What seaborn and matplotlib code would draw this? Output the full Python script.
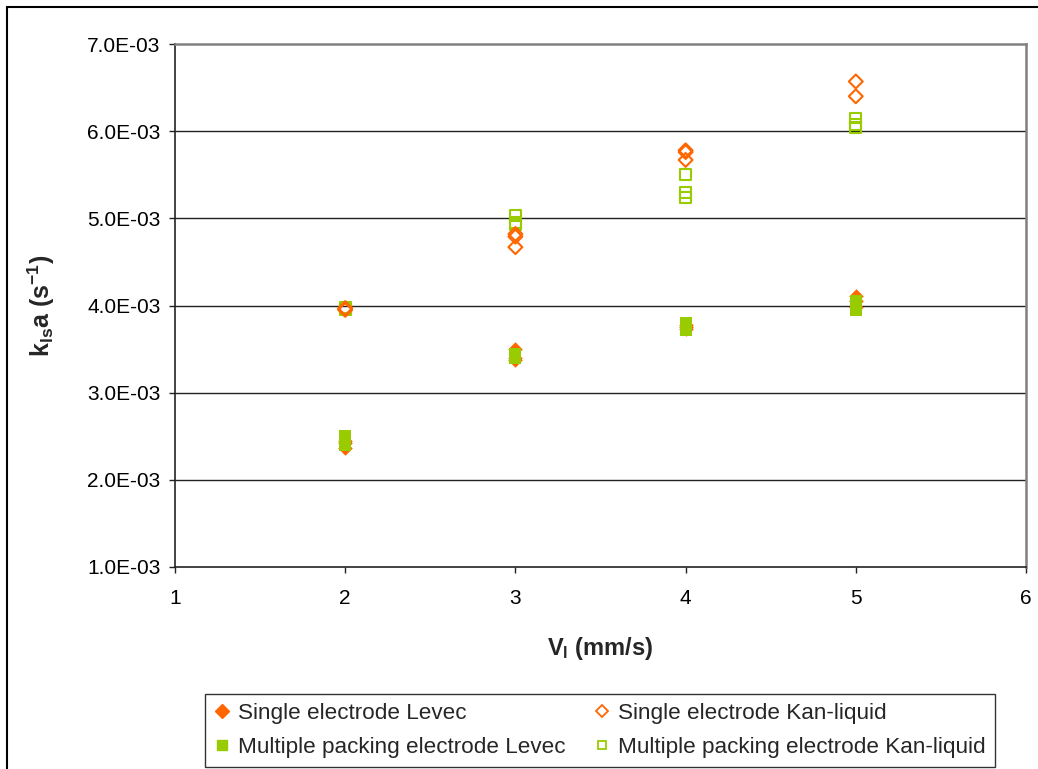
import matplotlib
matplotlib.use("Agg")
import matplotlib.pyplot as plt
import matplotlib.patches as mpatches
from matplotlib.lines import Line2D
from matplotlib.ticker import FuncFormatter, MultipleLocator
import seaborn as sns
import pandas as pd

# Liquid velocity (mm/s) and measured k_ls·a (1/s) for each configuration
vl_single_levec = [2, 2, 2, 3, 3, 3, 4, 4, 4, 5, 5, 5]
kla_single_levec = [2.36e-3, 2.42e-3, 2.45e-3, 3.50e-3, 3.40e-3, 3.38e-3,
                    3.75e-3, 3.78e-3, 3.73e-3, 4.11e-3, 4.05e-3, 3.98e-3]

vl_multi_levec = [2, 2, 2, 3, 3, 3, 4, 4, 4, 5, 5, 5]
kla_multi_levec = [2.50e-3, 2.45e-3, 2.40e-3, 3.44e-3, 3.42e-3, 3.40e-3,
                   3.80e-3, 3.76e-3, 3.72e-3, 4.05e-3, 4.00e-3, 3.95e-3]

vl_single_kan = [2, 2, 2, 3, 3, 3, 4, 4, 4, 5, 5]
kla_single_kan = [3.96e-3, 3.95e-3, 3.97e-3, 4.82e-3, 4.79e-3, 4.67e-3,
                  5.78e-3, 5.76e-3, 5.67e-3, 6.57e-3, 6.40e-3]

vl_multi_kan = [2, 2, 2, 3, 3, 3, 4, 4, 4, 5, 5, 5]
kla_multi_kan = [3.98e-3, 3.95e-3, 3.96e-3, 5.03e-3, 4.95e-3, 4.93e-3,
                 5.50e-3, 5.30e-3, 5.24e-3, 6.15e-3, 6.08e-3, 6.04e-3]

series_names = ["Single electrode Levec", "Multiple packing electrode Levec",
                "Single electrode Kan-liquid", "Multiple packing electrode Kan-liquid"]

ORANGE = "#FF6600"
GREEN = "#99CC00"

sns.set_theme(style="white")
plt.rcParams["font.family"] = ["Liberation Sans", "DejaVu Sans"]
plt.rcParams["mathtext.fontset"] = "custom"
plt.rcParams["mathtext.rm"] = "Liberation Sans"
plt.rcParams["mathtext.bf"] = "Liberation Sans:bold"
plt.rcParams["mathtext.it"] = "Liberation Sans:italic"

fig = plt.figure(figsize=(10.38, 7.69), dpi=100)
ax = fig.add_axes([175 / 1038, 1 - 567 / 769, 851 / 1038, 523 / 769])

frames = [
    pd.DataFrame({"vl": vl_single_levec, "kla": kla_single_levec}),
    pd.DataFrame({"vl": vl_multi_levec, "kla": kla_multi_levec}),
    pd.DataFrame({"vl": vl_multi_kan, "kla": kla_multi_kan}),
    pd.DataFrame({"vl": vl_single_kan, "kla": kla_single_kan}),
]

sns.scatterplot(data=frames[0], x="vl", y="kla", ax=ax, marker="D", s=55,
                color=ORANGE, edgecolor=ORANGE, linewidth=0, zorder=3)
sns.scatterplot(data=frames[1], x="vl", y="kla", ax=ax, marker="s", s=75,
                color=GREEN, edgecolor=GREEN, linewidth=0, zorder=4)
sns.scatterplot(data=frames[2], x="vl", y="kla", ax=ax, marker="s", s=60,
                facecolor="none", edgecolor=GREEN, linewidth=1.5, zorder=5)
sns.scatterplot(data=frames[3], x="vl", y="kla", ax=ax, marker="D", s=50,
                facecolor="none", edgecolor=ORANGE, linewidth=1.5, zorder=6)

ax.set_xlim(1, 6)
ax.set_ylim(1e-3, 7e-3)
ax.xaxis.set_major_locator(MultipleLocator(1))
ax.yaxis.set_major_locator(MultipleLocator(1e-3))
ax.yaxis.set_major_formatter(FuncFormatter(lambda v, p: f"{v:.1E}"))

# Horizontal gridlines inside the plot area
for yv in [2e-3, 3e-3, 4e-3, 5e-3, 6e-3]:
    ax.axhline(yv, color="#222222", lw=1.0, zorder=1)

for side in ["left", "bottom"]:
    ax.spines[side].set_color("#222222")
    ax.spines[side].set_linewidth(1.2)
for side in ["top", "right"]:
    ax.spines[side].set_color("#808080")
    ax.spines[side].set_linewidth(1.8)

ax.tick_params(axis="both", which="major", direction="out", length=4.5, width=1,
               color="#222222", labelsize=15, labelcolor="black",
               bottom=True, left=True)
ax.tick_params(axis="y", pad=6)
ax.tick_params(axis="x", pad=11)

ax.set_xlabel(r"$\mathbf{V_{l}}$ (mm/s)", fontsize=17, fontweight="bold")
ax.set_ylabel(r"$\mathbf{k_{ls}a\ (s^{-1})}$", fontsize=18, fontweight="bold")
ax.xaxis.set_label_coords(0.5, -0.155)
ax.yaxis.set_label_coords(-0.157, 0.5)
ax.xaxis.label.set_va("center")
ax.yaxis.label.set_va("center")

# Legend: two columns, row-major order
handles = [
    Line2D([], [], ls="", marker="D", ms=7, mfc=ORANGE, mec=ORANGE),
    Line2D([], [], ls="", marker="s", ms=7, mfc=GREEN, mec=GREEN),
    Line2D([], [], ls="", marker="D", ms=6, mfc="none", mec=ORANGE, mew=1.3),
    Line2D([], [], ls="", marker="s", ms=6, mfc="none", mec=GREEN, mew=1.3),
]
leg = fig.legend(handles, series_names, ncol=2, loc="lower left",
                 bbox_to_anchor=(205 / 1038, 2 / 769, 790 / 1038, 76 / 769),
                 mode="expand", fontsize=16.2,
                 frameon=True, fancybox=False, edgecolor="black",
                 handlelength=0.7, handletextpad=0.35, borderpad=0.42,
                 labelspacing=0.55, columnspacing=1.4, borderaxespad=0)
leg.get_frame().set_linewidth(1.0)

# Outer chart border
fig.patches.append(mpatches.Rectangle((7 / 1038, -0.05), 1.1, 1 - 7 / 769 + 0.05,
                                      transform=fig.transFigure, fill=False,
                                      edgecolor="black", linewidth=1.5))

fig.savefig("out.png", dpi=100)
